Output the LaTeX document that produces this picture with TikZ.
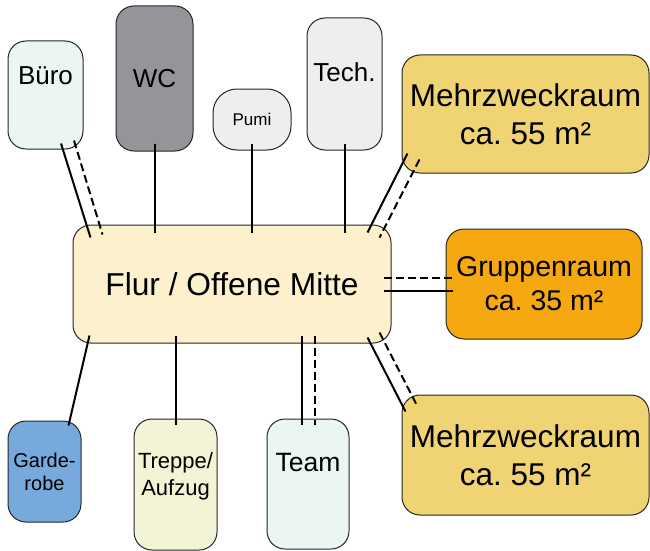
\documentclass[tikz,border=0pt]{standalone}
\usepackage{fontspec}
\setmainfont{Liberation Sans}
\usetikzlibrary{calc}

\definecolor{mint}{HTML}{EBF6F4}
\definecolor{wcgray}{HTML}{939598}
\definecolor{lightgray}{HTML}{EEEEEE}
\definecolor{gold}{HTML}{F0D473}
\definecolor{orange}{HTML}{F5A80F}
\definecolor{cream}{HTML}{FDF0CC}
\definecolor{blue}{HTML}{78A9DC}
\definecolor{paleyellow}{HTML}{F3F3D6}

\tikzset{
  room/.style={draw=black!85, line width=1pt, rounded corners=18pt, inner sep=0pt, align=center},
  link/.style={line width=2pt},
  linkd/.style={line width=2pt, dash pattern=on 8pt off 4pt},
}

\begin{document}
\begin{tikzpicture}[x=1pt,y=-1pt]
\useasboundingbox (0,0) rectangle (650,551);
\node[room, fill=mint, minimum width=75pt, minimum height=108pt,
  label={[font=\fontsize{26}{31}\selectfont, yshift=19pt]center:Büro}] (buero) at (45.5,95) {};
\node[room, fill=wcgray, minimum width=77pt, minimum height=145pt,
  font=\fontsize{26}{31}\selectfont] (wc) at (154.5,78.5) {WC};
\node[room, fill=lightgray, minimum width=78pt, minimum height=61pt, rounded corners=24pt,
  font=\fontsize{17}{20}\selectfont] (pumi) at (252,119.5) {Pumi};
\node[room, fill=lightgray, minimum width=75pt, minimum height=132pt,
  label={[font=\fontsize{26}{31}\selectfont, yshift=12pt]center:Tech.}] (tech) at (344.5,84) {};
\node[room, fill=gold, minimum width=247pt, minimum height=118pt,
  font=\fontsize{31.5}{38}\selectfont] (mza) at (525.5,114) {Mehrzweckraum\\ca.~55~m²};
\node[room, fill=cream, minimum width=318pt, minimum height=118pt,
  font=\fontsize{31.7}{38}\selectfont] (flur) at (232,284) {Flur / Offene Mitte};
\node[room, fill=orange, minimum width=196pt, minimum height=110pt,
  font=\fontsize{28.5}{34}\selectfont] (gruppen) at (544,284) {Gruppenraum\\ca.~35~m²};
\node[room, fill=blue, minimum width=73pt, minimum height=101pt,
  font=\fontsize{20}{23}\selectfont] (garde) at (44.5,471.5) {Garde-\\robe};
\node[room, fill=paleyellow, minimum width=83pt, minimum height=131pt,
  label={[font=\fontsize{22}{27}\selectfont, align=center, yshift=8.5pt]center:Treppe/\\Aufzug}] (treppe) at (175.5,484.5) {};
\node[room, fill=mint, minimum width=82pt, minimum height=130pt,
  label={[font=\fontsize{26.5}{31}\selectfont, yshift=21pt]center:Team}] (team) at (308,484) {};
\node[room, fill=gold, minimum width=247pt, minimum height=120pt,
  font=\fontsize{31.5}{38}\selectfont] (mzb) at (525.5,455) {Mehrzweckraum\\ca.~55~m²};

% oben
\draw[link] ($(buero.south)+(15.5,-6)$) -- ($(flur.north west)+(18,13)$);
\draw[linkd] ($(buero.south)+(28.5,-9)$) -- ($(flur.north west)+(30,10)$);
\draw[link] ($(wc.south)+(0,-8)$) -- ($(wc.south |- flur.north)+(0,8)$);
\draw[link] ($(pumi.south)+(0,-7)$) -- ($(pumi.south |- flur.north)+(0,8)$);
\draw[link] ($(tech.south)+(0,-7)$) -- ($(tech.south |- flur.north)+(0,8)$);
\draw[link] ($(mza.south west)+(6,-20)$) -- ($(flur.north east)+(-24,8)$);
\draw[linkd] ($(mza.south west)+(18,-14)$) -- ($(flur.north east)+(-12,13)$);
% rechts
\draw[linkd] ($(flur.east)+(-8,-6.5)$) -- ($(flur.east -| gruppen.west)+(7,-6.5)$);
\draw[link] ($(flur.east)+(-8,6.5)$) -- ($(flur.east -| gruppen.west)+(7,6.5)$);
% unten
\draw[link] ($(flur.south west)+(17,-8)$) -- ($(garde.north east)+(-13,5)$);
\draw[link] ($(treppe.north |- flur.south)+(0,-8)$) -- ($(treppe.north)+(0,6)$);
\draw[link] ($(team.north |- flur.south)+(-6.5,-8)$) -- ($(team.north)+(-6.5,6)$);
\draw[linkd] ($(team.north |- flur.south)+(6.5,-8)$) -- ($(team.north)+(6.5,6)$);
\draw[link] ($(flur.south east)+(-24,-6)$) -- ($(mzb.north west)+(4,17)$);
\draw[linkd] ($(flur.south east)+(-12,-11)$) -- ($(mzb.north west)+(16,12)$);
\end{tikzpicture}
\end{document}
